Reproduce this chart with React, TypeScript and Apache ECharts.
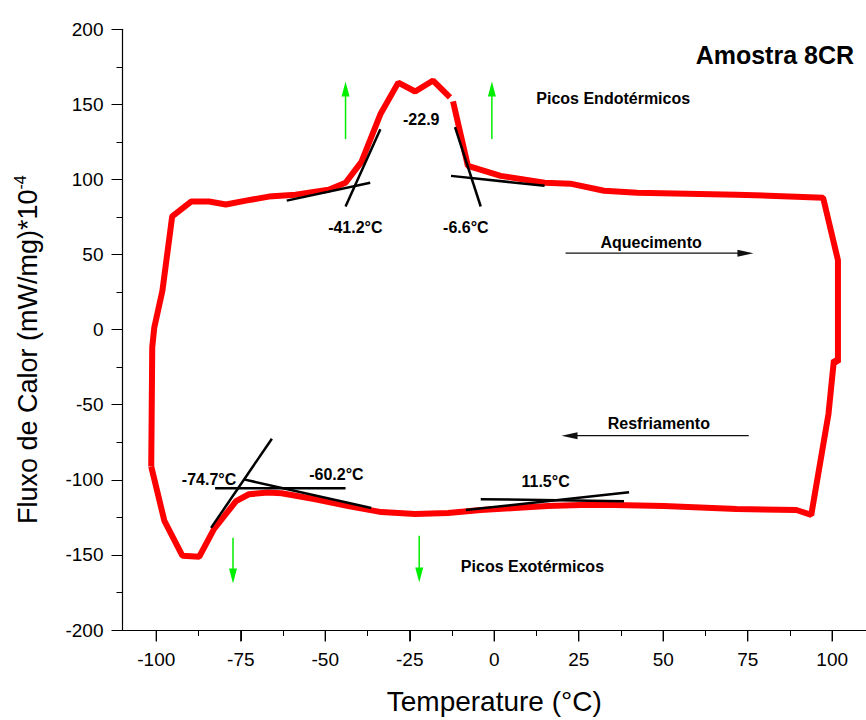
import React, { useEffect, useRef } from "react";
import * as echarts from "echarts";

const FONT = "'Liberation Sans', Arial, Helvetica, sans-serif";

const loopTempA = [-101.5, -101.2, -100.6, -98.2, -95.3, -89.7, -84.4, -79.4, -73.5, -66.7, -58.8, -49.0, -44.0, -39.3, -33.7, -28.4, -23.4, -18.1, -13.1];
const loopFluxA = [-91.1, -11.8, 1.4, 25.8, 75.4, 85.3, 85.3, 83.3, 85.9, 88.6, 89.9, 93.2, 97.8, 111.7, 143.4, 164.5, 158.6, 165.9, 154.6];
const loopTempB = [-12.2, -7.8, 1.9, 14.9, 22.5, 32.5, 42.3, 71.7, 97.3, 101.7, 101.7, 100.5, 98.9, 93.8, 89.4, 71.7, 50.2, 35.5, 25.5, 15.8, 6.0, -4.0, -13.7, -23.4, -33.4, -43.2, -52.9, -62.9, -67.0, -72.6, -76.4, -82.9, -87.3, -92.3, -97.6, -101.5];
const loopFluxB = [152.0, 109.1, 102.4, 97.8, 97.2, 92.5, 91.2, 89.9, 87.9, 46.3, -21.7, -20.4, -56.1, -123.4, -120.1, -119.5, -117.5, -116.8, -116.8, -117.5, -118.8, -120.1, -122.1, -122.8, -121.5, -117.5, -112.9, -108.9, -108.5, -109.6, -114.2, -132.7, -151.2, -150.5, -127.4, -91.1];

const xMajorTicks = [-100, -75, -50, -25, 0, 25, 50, 75, 100];
const xMinorTicks = [-87.5, -62.5, -37.5, -12.5, 12.5, 37.5, 62.5, 87.5];

const tangentSegments = [
  [[-61.4, 85.9], [-36.7, 97.8]],
  [[-44.0, 82.0], [-33.7, 133.5]],
  [[-11.6, 134.8], [-4.0, 82.0]],
  [[-12.8, 102.4], [14.9, 95.8]],
  [[-83.8, -132.0], [-65.8, -72.6]],
  [[-82.6, -105.6], [-44.0, -105.6]],
  [[-74.1, -99.7], [-36.4, -118.8]],
  [[-4.0, -112.9], [38.4, -114.2]],
  [[-8.4, -120.1], [39.9, -108.2]],
];

const labelTexts = ["-41.2°C", "-6.6°C", "-22.9", "-74.7°C", "-60.2°C", "11.5°C", "Aquecimento", "Resfriamento", "Picos Endotérmicos", "Picos Exotérmicos"];
const labelTemps = [-41.1, -8.4, -21.6, -84.4, -46.7, 15.2, 46.4, 48.7, 35.2, 11.3];
const labelFlux = [68.1, 68.1, 140.1, -99.7, -96.4, -101.0, 58.2, -62.7, 154.0, -157.8];

const greenArrows = [
  [-44.0, 126.9, -44.0, 165.2],
  [-0.7, 126.9, -0.7, 165.2],
  [-77.3, -138.6, -77.3, -169.0],
  [-22.2, -137.3, -22.2, -168.3],
];
const blackArrows = [
  [21.1, 50.9, 76.7, 50.9],
  [75.3, -70.6, 19.9, -70.6],
];

function toPairs(xs: number[], ys: number[]) {
  return xs.map((x, i) => [x, ys[i]]);
}

export default function App() {
  const ref = useRef<HTMLDivElement>(null);
  useEffect(() => {
    if (!ref.current) return;
    const chart = echarts.init(ref.current, null, { renderer: "svg" });
    const redStyle = { color: "#ff0000", width: 6 };
    const series: any[] = [
      { type: "line", data: toPairs(loopTempA, loopFluxA), showSymbol: false, symbol: "none", lineStyle: redStyle, z: 2 },
      { type: "line", data: toPairs(loopTempB, loopFluxB), showSymbol: false, symbol: "none", lineStyle: redStyle, z: 2 },
    ];
    tangentSegments.forEach((seg) => {
      series.push({ type: "line", data: seg, showSymbol: false, symbol: "none", lineStyle: { color: "#000", width: 2.5 }, z: 3 });
    });
    const tickAxis = (values: number[], len: number) => ({
      type: "value",
      min: -110,
      max: 110,
      position: "bottom",
      axisLine: { show: false, onZero: false },
      axisTick: { show: true, length: len, customValues: values, lineStyle: { color: "#000", width: 1 } },
      axisLabel: { show: false },
      splitLine: { show: false },
    });
    chart.setOption({
      animation: false,
      backgroundColor: "#fff",
      title: {
        text: "Amostra 8CR",
        right: 7,
        top: 37,
        textStyle: { fontFamily: FONT, fontSize: 25, fontWeight: "bold", color: "#000" },
      },
      grid: { left: 122.5, top: 29.3, width: 747, height: 605.7, containLabel: false },
      xAxis: [
        {
          type: "value",
          min: -110,
          max: 110,
          name: "Temperature (°C)",
          nameLocation: "middle",
          nameGap: 57,
          nameTextStyle: { fontFamily: FONT, fontSize: 28, color: "#000" },
          axisLine: { show: true, onZero: false, lineStyle: { color: "#000", width: 1.2 } },
          axisTick: { show: false },
          axisLabel: { customValues: xMajorTicks, fontFamily: FONT, fontSize: 19, color: "#000", margin: 20 },
          splitLine: { show: false },
        },
        tickAxis(xMinorTicks, 6),
        tickAxis(xMajorTicks.map((v) => v + 1e-6), 11),
      ],
      yAxis: {
        type: "value",
        min: -200,
        max: 200,
        interval: 50,
        name: "{a|Fluxo de Calor (mW/mg)*10}{b|-4}",
        nameLocation: "middle",
        nameRotate: 90,
        nameGap: 80,
        nameTextStyle: {
          padding: [0, 40, 0, 0],
          rich: {
            a: { fontFamily: FONT, fontSize: 27, color: "#000" },
            b: { fontFamily: FONT, fontSize: 16, color: "#000", padding: [0, 0, 14, 0] },
          },
        },
        axisLine: { show: true, onZero: false, lineStyle: { color: "#000", width: 1.2 } },
        axisTick: { show: true, length: 11, lineStyle: { color: "#000" } },
        minorTick: { show: true, splitNumber: 2, length: 6, lineStyle: { color: "#000" } },
        axisLabel: { fontFamily: FONT, fontSize: 19, color: "#000", margin: 19 },
        splitLine: { show: false },
      },
      series,
    });

    const px = (p: number[]) => chart.convertToPixel({ xAxisIndex: 0, yAxisIndex: 0 }, p) as number[];
    const graphics: any[] = [];
    // major x ticks drawn again through the axis scale, as a fallback
    const yBase = px([0, -200])[1];
    xMajorTicks.forEach((v) => {
      const x = px([v, -200])[0];
      graphics.push({
        type: "line",
        shape: { x1: x, y1: yBase + 0.5, x2: x, y2: yBase + 11.5 },
        style: { stroke: "#000", lineWidth: 1.3 },
        silent: true,
        z: 20,
      });
    });
    const arrow = (a: number[], color: string, lw: number, headLen: number, headHalf: number) => {
      const p0 = px([a[0], a[1]]);
      const p1 = px([a[2], a[3]]);
      const dx = p1[0] - p0[0];
      const dy = p1[1] - p0[1];
      const L = Math.hypot(dx, dy);
      const ux = dx / L;
      const uy = dy / L;
      const bx = p1[0] - ux * headLen;
      const by = p1[1] - uy * headLen;
      graphics.push({
        type: "line",
        shape: { x1: p0[0], y1: p0[1], x2: bx + ux * 1, y2: by + uy * 1 },
        style: { stroke: color, lineWidth: lw },
        z: 10,
      });
      graphics.push({
        type: "polygon",
        shape: {
          points: [
            [p1[0], p1[1]],
            [bx - uy * headHalf, by + ux * headHalf],
            [bx + uy * headHalf, by - ux * headHalf],
          ],
        },
        style: { fill: color },
        z: 10,
      });
    };
    greenArrows.forEach((a) => arrow(a, "#00ee00", 1.5, 15, 4));
    blackArrows.forEach((a) => arrow(a, "#111", 1.2, 16, 3.5));
    labelTexts.forEach((t, i) => {
      const p = px([labelTemps[i], labelFlux[i]]);
      graphics.push({
        type: "text",
        x: p[0],
        y: p[1],
        style: {
          text: t,
          fontFamily: FONT,
          fontSize: 16,
          fontWeight: "bold",
          fill: "#000",
          align: "center",
          verticalAlign: "middle",
        },
        z: 11,
      });
    });
    chart.setOption({ graphic: graphics });

    return () => chart.dispose();
  }, []);
  return <div ref={ref} style={{ position: "absolute", left: 0, top: 0, width: 866, height: 720 }} />;
}
